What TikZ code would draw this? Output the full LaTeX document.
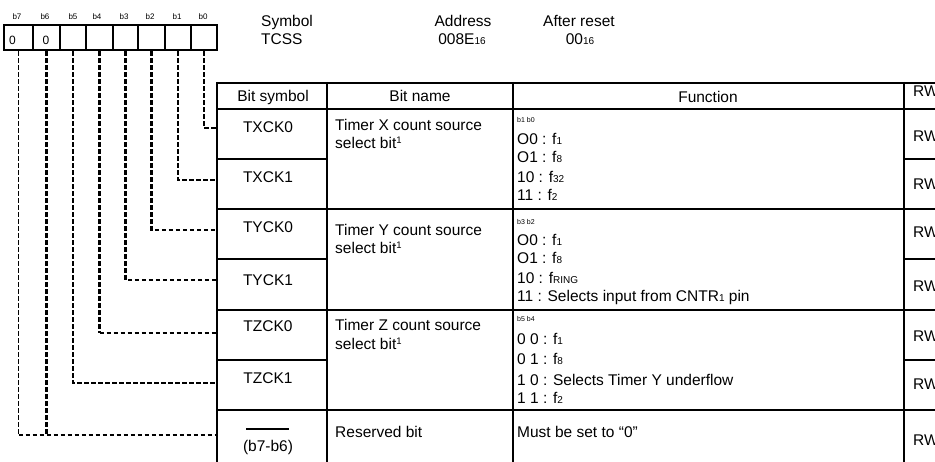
\documentclass[tikz,border=0pt]{standalone}
\usepackage{fontspec}
\setmainfont{Liberation Sans}
\newcommand\sbs[1]{{\fontsize{10}{10}\selectfont #1}}
\newcommand\sps[1]{\raisebox{5pt}{\fontsize{9.5}{9.5}\selectfont #1}}
\begin{document}
\begin{tikzpicture}[x=1pt,y=-1pt,
  txt/.style={inner sep=0pt, anchor=base west, font=\fontsize{15.5}{18}\selectfont},
  ctxt/.style={txt, anchor=base},
  tiny/.style={inner sep=0pt, anchor=base west, font=\fontsize{7}{8}\selectfont},
  bitlbl/.style={inner sep=0pt, anchor=base, font=\fontsize{8}{9}\selectfont},
  regcell/.style={draw, line width=2.8pt, inner sep=0pt, minimum height=25pt},
  zero/.style={inner sep=0pt, anchor=base, font=\fontsize{12}{12}\selectfont},
  conn/.style={dashed, dash pattern=on 4.5pt off 2.5pt, line width=2.3pt},
  connthin/.style={dashed, dash pattern=on 4.5pt off 2.5pt, line width=1.2pt},
  thick rule/.style={line width=2.8pt},
  rule/.style={line width=1.7pt}]
\useasboundingbox (0,0) rectangle (935,462);

% register cells b7 ... b0
\node[regcell, minimum width=29pt] (c7) at (18.5,37.5) {};
\node[regcell, minimum width=27pt] (c6) at (46.5,37.5) {};
\node[regcell, minimum width=26pt] (c5) at (73,37.5) {};
\node[regcell, minimum width=27pt] (c4) at (99.5,37.5) {};
\node[regcell, minimum width=25pt] (c3) at (125.5,37.5) {};
\node[regcell, minimum width=27pt] (c2) at (151.5,37.5) {};
\node[regcell, minimum width=26pt] (c1) at (178,37.5) {};
\node[regcell, minimum width=26pt] (c0) at (204,37.5) {};
\node[zero] (z7) at (12.5,45) {0};
\node[zero] (z6) at (46,45) {0};

% bit numbers
\node[bitlbl] (l7) at (17,19.5) {b7};
\node[bitlbl] (l6) at (45,19.5) {b6};
\node[bitlbl] (l5) at (73,19.5) {b5};
\node[bitlbl] (l4) at (97,19.5) {b4};
\node[bitlbl] (l3) at (124,19.5) {b3};
\node[bitlbl] (l2) at (150,19.5) {b2};
\node[bitlbl] (l1) at (177,19.5) {b1};
\node[bitlbl] (l0) at (203,19.5) {b0};

% register heading
\node[txt] (symh) at (261,27) {Symbol};
\node[txt] (symv) at (261,45) {TCSS};
\node[ctxt] (addrh) at (463,27) {Address};
\node[ctxt] (addrv) at (462,45) {008E\sbs{16}};
\node[txt] (rsth) at (543,27) {After reset};
\node[ctxt] (rstv) at (580,45) {00\sbs{16}};

% table grid
\draw[line width=2.2pt] (217,83) -- (935,83);
\draw[rule] (217,109) -- (935,109);
\draw[rule] (217,159) -- (327,159);
\draw[rule] (904,159) -- (935,159);
\draw[rule] (217,209) -- (935,209);
\draw[thick rule] (217,259) -- (327,259);
\draw[rule] (904,259) -- (935,259);
\draw[rule] (217,310) -- (935,310);
\draw[thick rule] (217,360) -- (327,360);
\draw[rule] (904,360) -- (935,360);
\draw[rule] (217,410) -- (935,410);
\draw[thick rule] (217,82) -- (217,462);
\draw[thick rule] (327,82) -- (327,462);
\draw[thick rule] (513,82) -- (513,462);
\draw[thick rule] (904,82) -- (904,462);

% header row
\node[ctxt] (hsym) at (273,102) {Bit symbol};
\node[ctxt] (hname) at (420,102) {Bit name};
\node[ctxt] (hfun) at (708,103) {Function};
\node[txt] (hrw) at (913,97) {RW};

% bit symbols
\node[ctxt] (s0) at (268,133) {TXCK0};
\node[ctxt] (s1) at (268,183) {TXCK1};
\node[ctxt] (s2) at (268,233) {TYCK0};
\node[ctxt] (s3) at (268,286) {TYCK1};
\node[ctxt] (s4) at (268,332) {TZCK0};
\node[ctxt] (s5) at (268,384) {TZCK1};
\draw[line width=2.6pt] (246,429) -- (289,429);
\node[ctxt] (s67) at (268,451) {(b7-b6)};

% bit names
\node[txt] (nx1) at (335,131) {Timer X count source};
\node[txt] (nx2) at (335,149) {select bit\sps{1}};
\node[txt] (ny1) at (335,236) {Timer Y count source};
\node[txt] (ny2) at (335,254) {select bit\sps{1}};
\node[txt] (nz1) at (335,331) {Timer Z count source};
\node[txt] (nz2) at (335,350) {select bit\sps{1}};
\node[txt] (nr) at (335,437) {Reserved bit};

% functions
\node[tiny] (fxh) at (517,123) {b1 b0};
\node[txt] (fx0) at (517,145) {O0 : f\sbs{1}};
\node[txt] (fx1) at (517,163) {O1 : f\sbs{8}};
\node[txt] (fx2) at (517,183) {10 : f\sbs{32}};
\node[txt] (fx3) at (517,201) {11 : f\sbs{2}};
\node[tiny] (fyh) at (517,225) {b3 b2};
\node[txt] (fy0) at (517,246) {O0 : f\sbs{1}};
\node[txt] (fy1) at (517,264) {O1 : f\sbs{8}};
\node[txt] (fy2) at (517,284) {10 : f\sbs{RING}};
\node[txt] (fy3) at (517,302) {11 : Selects input from CNTR\sbs{1} pin};
\node[tiny] (fzh) at (517,322) {b5 b4};
\node[txt] (fz0) at (517,345) {0 0 : f\sbs{1}};
\node[txt] (fz1) at (517,365) {0 1 : f\sbs{8}};
\node[txt] (fz2) at (517,385) {1 0 : Selects Timer Y underflow};
\node[txt] (fz3) at (517,403) {1 1 : f\sbs{2}};
\node[txt] (fr) at (517,437) {Must be set to ``0''};

% access
\node[txt] (rw0) at (913,142) {RW};
\node[txt] (rw1) at (913,190) {RW};
\node[txt] (rw2) at (913,238) {RW};
\node[txt] (rw3) at (913,292) {RW};
\node[txt] (rw4) at (913,342) {RW};
\node[txt] (rw5) at (913,390) {RW};
\node[txt] (rw67) at (913,445) {RW};

% row entry points on the table edge
\coordinate (p0) at (217,128);
\coordinate (p1) at (217,180);
\coordinate (p2) at (217,230);
\coordinate (p3) at (217,280);
\coordinate (p4) at (217,333);
\coordinate (p5) at (217,383);
\coordinate (p67) at (217,435);

% bit-to-row connectors
\draw[conn] (c0.south) |- (p0);
\draw[conn] (c1.south) |- (p1);
\draw[conn] (c2.south) |- (p2);
\draw[conn] (c3.south) |- (p3);
\draw[conn] (c4.south) -- (c4.south |- p4);
\draw[connthin] (c4.south |- p4) -- (p4);
\draw[conn] (c5.south) |- (p5);
\draw[conn] (c6.south) -- (c6.south |- p67);
\draw[connthin] (c7.south) -- (c7.south |- p67);
\draw[conn] (c7.south |- p67) -- (p67);
\end{tikzpicture}
\end{document}
